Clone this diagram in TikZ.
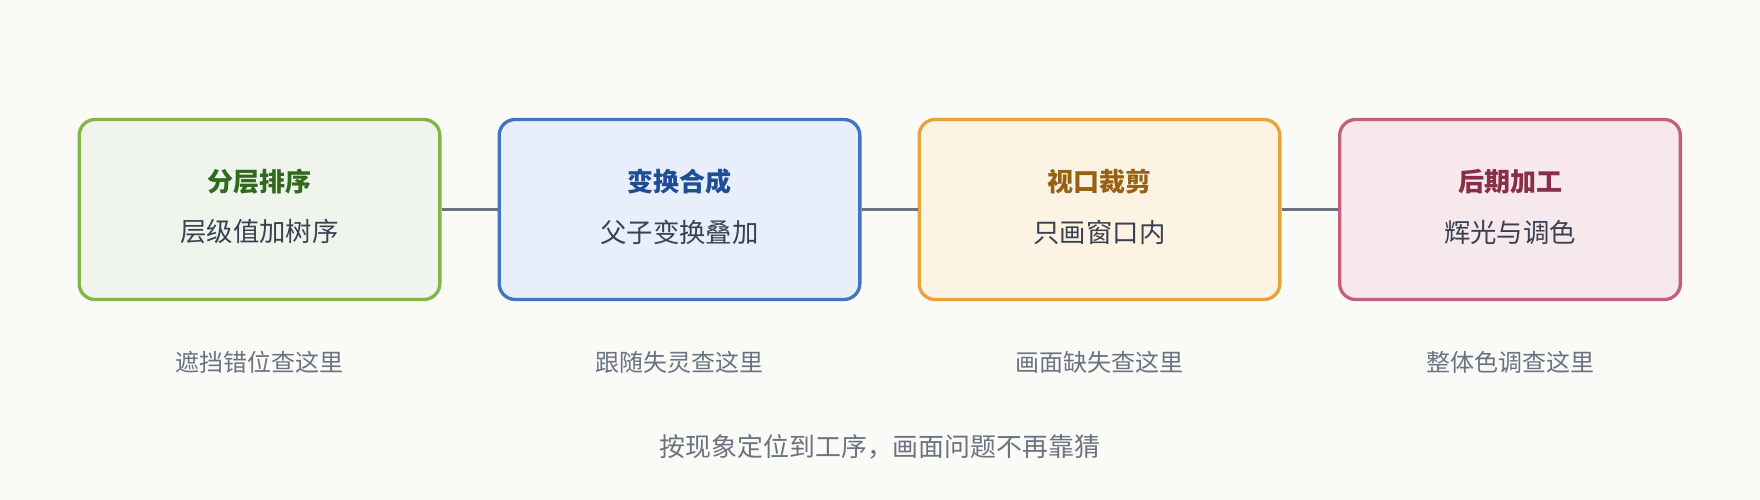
\documentclass[tikz,border=0pt]{standalone}
\usepackage{fontspec}
\setmainfont{Noto Sans CJK SC}
\definecolor{bg}{HTML}{FAFAF7}
\definecolor{lineC}{HTML}{6B7280}
\definecolor{subC}{HTML}{374151}
\definecolor{noteC}{HTML}{6B7280}
\definecolor{gS}{HTML}{82B446}\definecolor{gF}{HTML}{EFF5EC}\definecolor{gT}{HTML}{2F6A1E}
\definecolor{bS}{HTML}{4472C4}\definecolor{bF}{HTML}{E8EFFA}\definecolor{bT}{HTML}{1F4E96}
\definecolor{oS}{HTML}{E8A23A}\definecolor{oF}{HTML}{FDF3E3}\definecolor{oT}{HTML}{976012}
\definecolor{rS}{HTML}{C2607A}\definecolor{rF}{HTML}{F6E8EC}\definecolor{rT}{HTML}{8A2E47}
\tikzset{
  stagebox/.style={draw, line width=3.3pt, rounded corners=16pt, minimum width=360.7pt, minimum height=180pt, inner sep=0pt},
  titletext/.style={font=\fontsize{26}{31}\selectfont\bfseries, inner sep=0pt},
  subtext/.style={font=\fontsize{26.4}{31}\selectfont, text=subC, inner sep=0pt},
  notetext/.style={font=\fontsize{24}{29}\selectfont, text=noteC, inner sep=0pt},
  bottomtext/.style={font=\fontsize{25.9}{31}\selectfont, text=noteC, inner sep=0pt},
  link/.style={draw=lineC, line width=3.6pt}
}
\begin{document}
\begin{tikzpicture}[x=1pt,y=-1pt]
\fill[bg] (0,0) rectangle (1760,500);
\useasboundingbox (0,0) rectangle (1760,500);
\node[stagebox, draw=gS, fill=gF] (b1) at (259.5,209.5) {};
\node[stagebox, draw=bS, fill=bF] (b2) at (679.5,209.5) {};
\node[stagebox, draw=oS, fill=oF] (b3) at (1099.5,209.5) {};
\node[stagebox, draw=rS, fill=rF, minimum width=340.7pt] (b4) at (1510,209.5) {};
\draw[link] (b1.east) -- (b2.west);
\draw[link] (b2.east) -- (b3.west);
\draw[link] (b3.east) -- (b4.west);
\node[titletext, text=gT] (t1) at (259.5,182) {分层排序};
\node[titletext, text=bT] (t2) at (679.5,182) {变换合成};
\node[titletext, text=oT] (t3) at (1099.5,182) {视口裁剪};
\node[titletext, text=rT] (t4) at (1510,182) {后期加工};
\node[subtext] (s1) at (259.5,232) {层级值加树序};
\node[subtext] (s2) at (679.5,232) {父子变换叠加};
\node[subtext] (s3) at (1099.5,232) {只画窗口内};
\node[subtext] (s4) at (1510,232) {辉光与调色};
\node[notetext] (n1) at (259.5,362) {遮挡错位查这里};
\node[notetext] (n2) at (679.5,362) {跟随失灵查这里};
\node[notetext] (n3) at (1099.5,362) {画面缺失查这里};
\node[notetext] (n4) at (1510,362) {整体色调查这里};
\node[bottomtext] (bt) at (880,447) {按现象定位到工序，画面问题不再靠猜};
\end{tikzpicture}
\end{document}
